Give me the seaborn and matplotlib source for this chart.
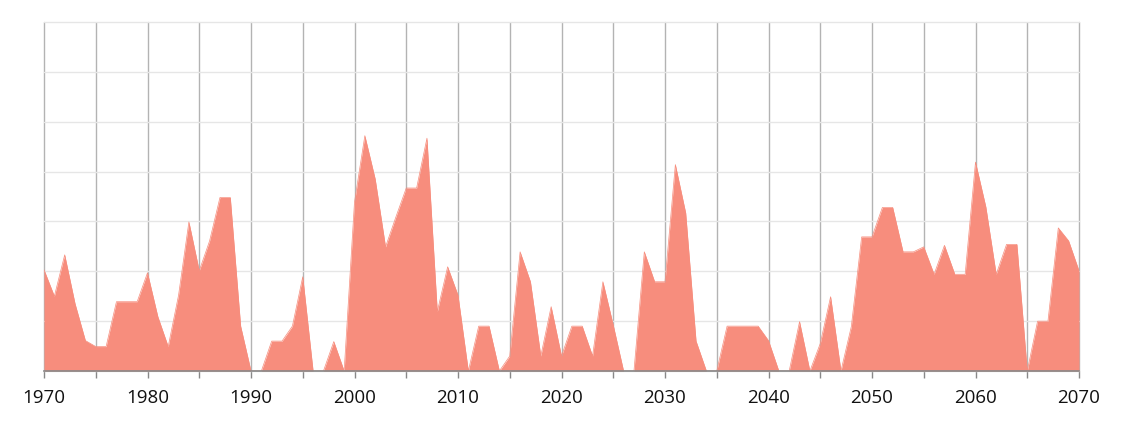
import numpy as np
import pandas as pd
import seaborn as sns
import matplotlib.pyplot as plt
from matplotlib.ticker import MultipleLocator

# data (one value per year)
years = list(range(1970, 2071))
values = [
    2.03, 1.50, 2.33, 1.35, 0.61, 0.49, 0.49, 1.39, 1.39, 1.39,   # 1970s
    1.97, 1.09, 0.49, 1.52, 2.99, 2.01, 2.61, 3.48, 3.48, 0.90,   # 1980s
    0.00, 0.00, 0.60, 0.60, 0.90, 1.89, 0.00, 0.00, 0.59, 0.00,   # 1990s
    3.39, 4.72, 3.85, 2.49, 3.09, 3.67, 3.67, 4.67, 1.19, 2.09,   # 2000s
    1.52, 0.00, 0.90, 0.90, 0.00, 0.30, 2.39, 1.79, 0.30, 1.29,   # 2010s
    0.30, 0.90, 0.90, 0.30, 1.79, 0.92, 0.00, 0.00, 2.39, 1.79,   # 2020s
    1.79, 4.14, 3.17, 0.60, 0.00, 0.00, 0.90, 0.90, 0.90, 0.90,   # 2030s
    0.61, 0.00, 0.00, 0.99, 0.00, 0.55, 1.49, 0.00, 0.89, 2.69,   # 2040s
    2.69, 3.28, 3.28, 2.39, 2.39, 2.49, 1.94, 2.52, 1.94, 1.94,   # 2050s
    4.19, 3.29, 1.94, 2.54, 2.54, 0.00, 1.00, 1.00, 2.87, 2.61,   # 2060s
    2.01,                                                         # 2070
]
df = pd.DataFrame({'year': years, 'value': values})

sns.set_theme(style='white')
plt.rcParams['font.family'] = ['Open Sans', 'DejaVu Sans']

fig = plt.figure(figsize=(11.23, 4.23), dpi=100)
ax = fig.add_axes([44 / 1123, 1 - 371 / 423, (1079 - 44) / 1123, (371 - 22) / 423])

# area (line sits under the fill so no outline shows)
fill_color = '#F78D7D'
sns.lineplot(data=df, x='year', y='value', ax=ax, color=fill_color, linewidth=0.5, zorder=1)
ax.fill_between(df['year'], df['value'], 0, color=fill_color, linewidth=0, zorder=2)

ax.set_xlim(1970, 2070)
ax.set_ylim(0, 7)

# ticks and grid
ax.xaxis.set_major_locator(MultipleLocator(10))
ax.xaxis.set_minor_locator(MultipleLocator(5))
ax.yaxis.set_major_locator(MultipleLocator(1))
ax.set_yticklabels([])
ax.tick_params(axis='y', length=0)
ax.tick_params(axis='x', which='both', bottom=True, length=5, width=1, color='#888888',
               direction='out')
ax.tick_params(axis='x', which='major', labelsize=13.5, pad=8, labelcolor='#111111')
ax.grid(axis='y', color='#e6e6e6', linewidth=1, zorder=0)
ax.grid(axis='x', which='both', color='#b3b3b3', linewidth=1, zorder=0)
ax.set_axisbelow(True)

# keep the edge gridlines (1970, 2070, top) from being cut in half
for line in ax.get_xgridlines() + ax.get_ygridlines():
    line.set_clip_on(False)

ax.set_xlabel('')
ax.set_ylabel('')
for side in ['left', 'right', 'top']:
    ax.spines[side].set_visible(False)
ax.spines['bottom'].set_color('#888888')
ax.spines['bottom'].set_linewidth(1.2)
ax.spines['bottom'].set_zorder(3)

plt.savefig('out.png', dpi=100)
